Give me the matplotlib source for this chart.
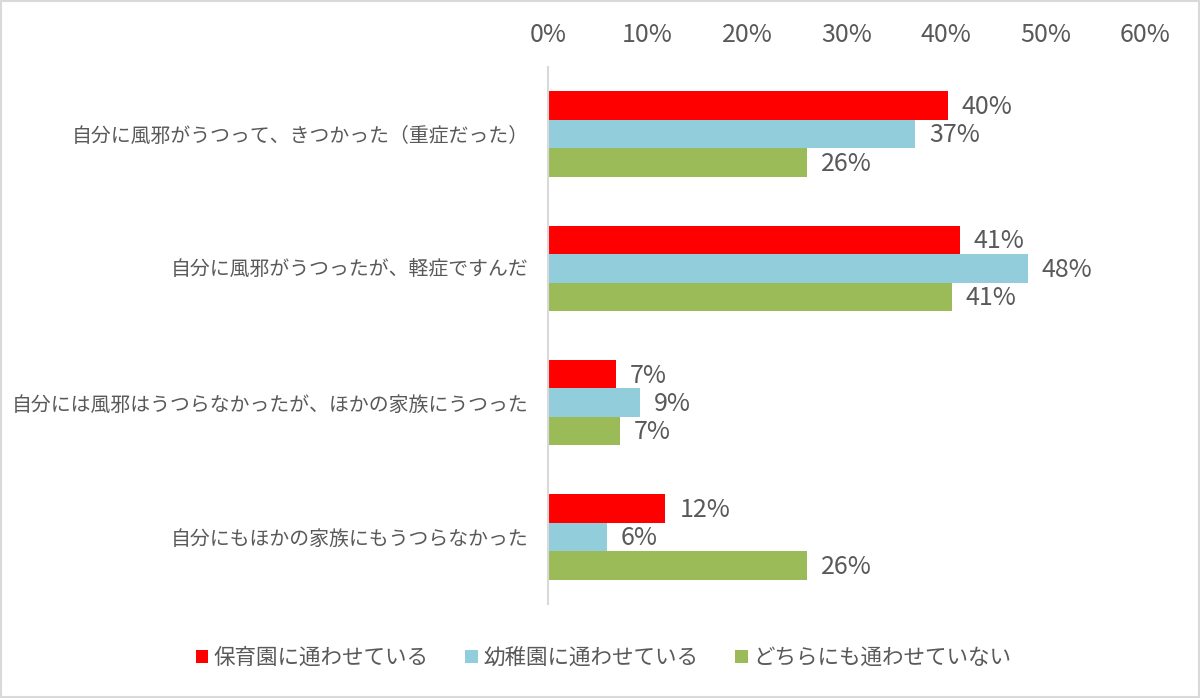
import matplotlib
matplotlib.use("Agg")
import matplotlib.pyplot as plt
from matplotlib.patches import Rectangle
import numpy as np

plt.rcParams['font.family'] = ['Noto Sans CJK JP', 'DejaVu Sans']

categories = [
    "自分に風邪がうつって、きつかった（重症だった）",
    "自分に風邪がうつったが、軽症ですんだ",
    "自分には風邪はうつらなかったが、ほかの家族にうつった",
    "自分にもほかの家族にもうつらなかった",
]
series_names = ["保育園に通わせている", "幼稚園に通わせている", "どちらにも通わせていない"]
hoikuen = [40.2, 41.4, 6.8, 11.8]
youchien = [36.9, 48.2, 9.2, 5.9]
neither = [26.0, 40.6, 7.2, 26.0]
colors = ["#FF0000", "#92CDDC", "#9BBB59"]
xticks = [0, 10, 20, 30, 40, 50, 60]
xtick_labels = ["0%", "10%", "20%", "30%", "40%", "50%", "60%"]

text_color = "#595959"

fig = plt.figure(figsize=(12, 6.98), dpi=100)
ax = fig.add_axes([548/1200, 1-604/698, 597/1200, (604-67)/698])

series = [hoikuen, youchien, neither]
h = 0.212
y = np.arange(len(categories))
for k, (vals, col, name) in enumerate(zip(series, colors, series_names)):
    pos = y + (k - 1) * h
    ax.barh(pos, vals, height=h, color=col, label=name)
    for p, v in zip(pos, vals):
        ax.text(v + 1.4, p + 0.01, f"{v:.0f}%", va="center", ha="left",
                fontsize=18, color=text_color)

ax.set_xlim(0, 60)
ax.set_ylim(len(categories) - 0.5, -0.5)
ax.set_xticks(xticks)
ax.set_xticklabels(xtick_labels)
ax.xaxis.tick_top()
ax.tick_params(axis='x', length=0, pad=14, labelsize=18, labelcolor=text_color)
ax.set_yticks(y)
ax.set_yticklabels(categories)
ax.tick_params(axis='y', length=0, pad=14, labelsize=14.3, labelcolor=text_color)
for s in ["top", "right", "bottom"]:
    ax.spines[s].set_visible(False)
ax.spines["left"].set_color("#D9D9D9")
ax.spines["left"].set_linewidth(1.5)

leg = fig.legend(loc="center", bbox_to_anchor=(0.503, 1-658/698), ncol=3,
                 frameon=False, fontsize=15.5, handlelength=0.6, handleheight=0.6,
                 handletextpad=0.25, columnspacing=1.7)
for t in leg.get_texts():
    t.set_color(text_color)

fig.patches.append(Rectangle((0.001, 0.001), 0.998, 0.997, transform=fig.transFigure,
                             fill=False, edgecolor="#D9D9D9", linewidth=1.5))

fig.savefig("out.png", dpi=100)
